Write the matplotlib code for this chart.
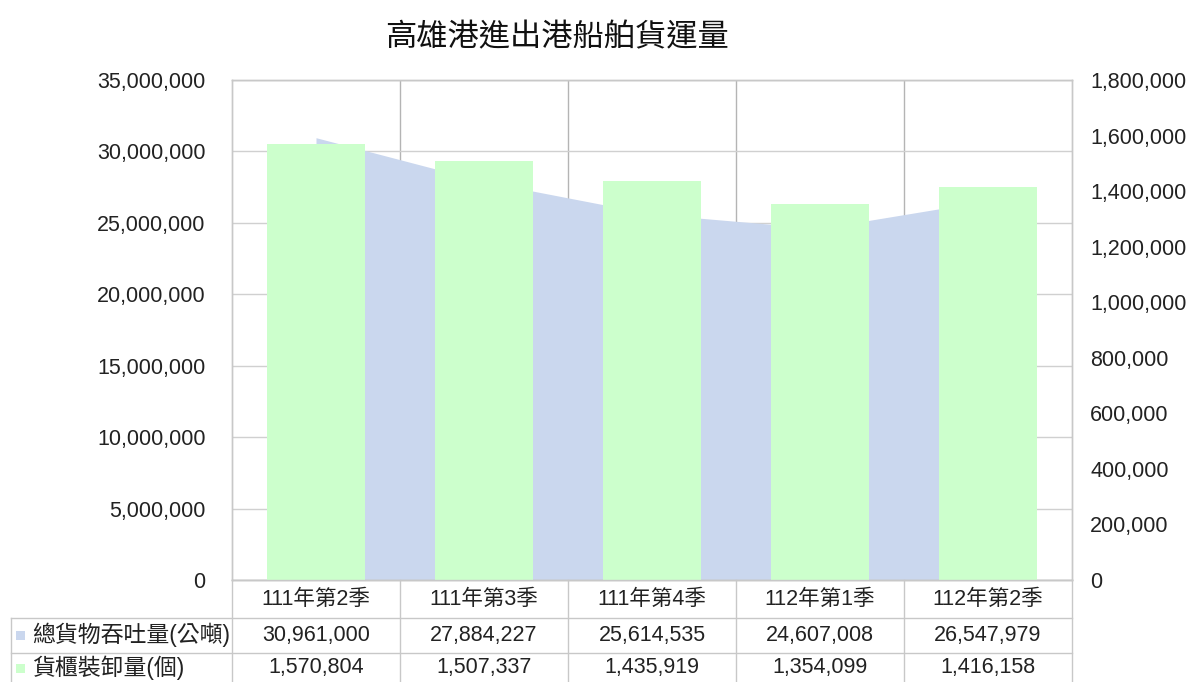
import matplotlib
matplotlib.use("Agg")
import matplotlib.pyplot as plt
from matplotlib.lines import Line2D
from matplotlib.patches import Rectangle
from matplotlib.transforms import blended_transform_factory
from matplotlib.ticker import FuncFormatter

plt.rcParams['font.family'] = ['Liberation Sans', 'Noto Sans CJK TC', 'DejaVu Sans']

title = "高雄港進出港船舶貨運量"
categories = ["111年第2季", "111年第3季", "111年第4季", "112年第1季", "112年第2季"]
series_names = ["總貨物吞吐量(公噸)", "貨櫃裝卸量(個)"]
cargo_tons = [30961000, 27884227, 25614535, 24607008, 26547979]
container_units = [1570804, 1507337, 1435919, 1354099, 1416158]

area_color = "#CAD7EE"
bar_color = "#CCFFCC"
grid_color = "#D0D0D0"
vgrid_color = "#B4B4B4"
table_color = "#C8C8C8"
fs = 15.5

W, H = 1190, 682
fig = plt.figure(figsize=(W / 100, H / 100), dpi=100)
ax = fig.add_axes([232 / W, 1 - 580 / H, (1072 - 232) / W, (580 - 80) / H])
ax2 = ax.twinx()

x = list(range(len(categories)))
ax.fill_between(x, cargo_tons, 0, color=area_color, linewidth=0, zorder=2)
ax.set_ylim(0, 35000000)
ax.set_yticks(range(0, 35000001, 5000000))
ax.yaxis.set_major_formatter(FuncFormatter(lambda v, p: f"{int(v):,}"))
ax.set_xlim(-0.5, len(categories) - 0.5)
ax.set_xticks(x)
ax.set_xticklabels([])
bounds = [i + 0.5 for i in range(len(categories) - 1)]
ax.set_xticks(bounds, minor=True)
ax.tick_params(axis='both', which='both', length=0)
ax.tick_params(axis='y', labelsize=fs, pad=19, colors='#222222')
ax.grid(axis='y', which='major', color=grid_color, linewidth=1.0, zorder=0)
ax.grid(axis='x', which='minor', color=vgrid_color, linewidth=1.0, zorder=0)
ax.set_axisbelow(True)

ax2.bar(x, container_units, width=0.58, color=bar_color, linewidth=0, zorder=3)
ax2.set_ylim(0, 1800000)
ax2.set_yticks(range(0, 1800001, 200000))
ax2.yaxis.set_major_formatter(FuncFormatter(lambda v, p: f"{int(v):,}"))
ax2.tick_params(axis='y', length=0, labelsize=fs, pad=13, colors='#222222')

for a in (ax, ax2):
    for s in a.spines.values():
        s.set_color(table_color)
        s.set_linewidth(1.0)

fig.text(557 / W, 1 - 38 / H, title, ha='center', va='center', fontsize=22.5, color='#111111')

# data table
tr = blended_transform_factory(ax.transData, fig.transFigure)
def fy(py):
    return 1 - py / H

row_lines = [580, 618, 653, 690]
edges = [-0.5] + bounds + [len(categories) - 0.5]
for e in edges:
    fig.add_artist(Line2D([e, e], [fy(580), fy(690)], transform=tr, color=table_color, lw=1.0))
fig.add_artist(Line2D([-0.5, len(categories) - 0.5], [fy(580), fy(580)], transform=tr, color=table_color, lw=1.0))
for py in row_lines[1:]:
    fig.add_artist(Line2D([11 / W, 1072 / W], [fy(py), fy(py)], transform=fig.transFigure, color=table_color, lw=1.0))
fig.add_artist(Line2D([11 / W, 11 / W], [fy(618), fy(690)], transform=fig.transFigure, color=table_color, lw=1.0))

for i, c in enumerate(categories):
    fig.text(i, fy(599), c, transform=tr, ha='center', va='center', fontsize=fs, color='#222222')

rows = [cargo_tons, container_units]
keys = [area_color, bar_color]
row_y = [635, 668]
for name, vals, kc, ry in zip(series_names, rows, keys, row_y):
    fig.add_artist(Rectangle((16 / W, fy(ry + 5)), 9 / W, 9 / H, transform=fig.transFigure,
                             facecolor=kc, edgecolor='none'))
    fig.text(32 / W, fy(ry), name, ha='left', va='center', fontsize=16.5, color='#222222')
    for i, v in enumerate(vals):
        fig.text(i, fy(ry), f"{v:,}", transform=tr, ha='center', va='center', fontsize=fs, color='#222222')

fig.savefig("out.png", dpi=100, facecolor='white')
